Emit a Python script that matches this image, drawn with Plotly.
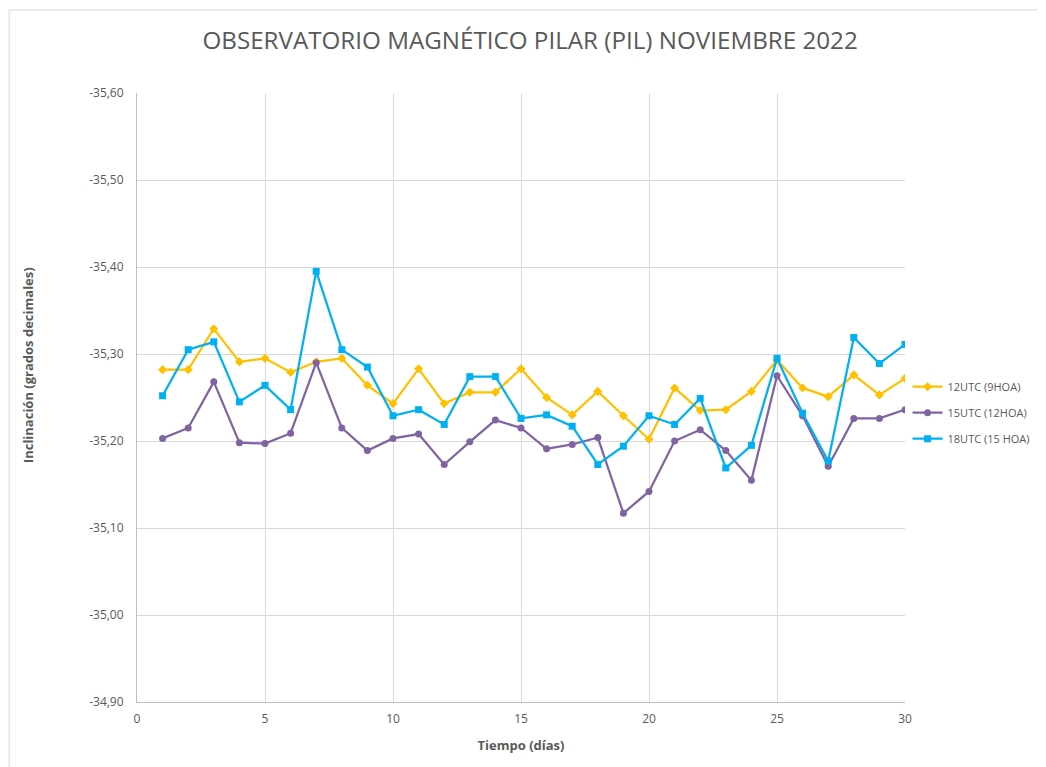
import plotly.graph_objects as go

dias = list(range(1, 31))
utc12 = [-35.282, -35.282, -35.329, -35.291, -35.295, -35.279, -35.291, -35.295, -35.264, -35.243,
         -35.283, -35.243, -35.256, -35.256, -35.283, -35.250, -35.230, -35.257, -35.229, -35.202,
         -35.261, -35.235, -35.236, -35.257, -35.293, -35.261, -35.251, -35.276, -35.253, -35.272]
utc15 = [-35.203, -35.215, -35.268, -35.198, -35.197, -35.209, -35.290, -35.215, -35.189, -35.203,
         -35.208, -35.173, -35.199, -35.224, -35.215, -35.191, -35.196, -35.204, -35.117, -35.142,
         -35.200, -35.213, -35.189, -35.155, -35.275, -35.229, -35.171, -35.226, -35.226, -35.236]
utc18 = [-35.252, -35.305, -35.314, -35.245, -35.264, -35.236, -35.395, -35.305, -35.285, -35.229,
         -35.236, -35.219, -35.274, -35.274, -35.226, -35.230, -35.217, -35.173, -35.194, -35.229,
         -35.219, -35.249, -35.169, -35.195, -35.295, -35.232, -35.177, -35.319, -35.289, -35.311]
nombres = ["12UTC (9HOA)", "15UTC (12HOA)", "18UTC (15 HOA)"]
yticks = [-35.60, -35.50, -35.40, -35.30, -35.20, -35.10, -35.00, -34.90]
yticklabels = ["-35,60", "-35,50", "-35,40", "-35,30", "-35,20", "-35,10", "-35,00", "-34,90"]

FONT = "Open Sans, sans-serif"
GREY = "#595959"

fig = go.Figure()
specs = [(utc12, "#FFC000", "diamond", 7), (utc15, "#8064A2", "circle", 7), (utc18, "#00B0F0", "square", 7)]
for i, ((vals, col, sym, sz), name) in enumerate(zip(specs, nombres)):
    fig.add_trace(go.Scatter(x=dias, y=vals, mode="lines+markers", name=name,
                             legendgroup=f"g{i}",
                             line=dict(color=col, width=2.25),
                             marker=dict(color=col, symbol=sym, size=sz)))

fig.update_layout(
    width=1038, height=759,
    paper_bgcolor="white", plot_bgcolor="white",
    separators=",.",
    margin=dict(l=129, r=140, t=85, b=65),
    title=dict(text="OBSERVATORIO MAGNÉTICO PILAR (PIL) NOVIEMBRE 2022",
               xref="container", x=0.503, xanchor="center", y=0.957, yanchor="middle",
               font=dict(family=FONT, size=24.2, color=GREY)),
    font=dict(family=FONT, color=GREY, size=12),
    showlegend=True,
    legend=dict(x=1.002, xanchor="left", y=0.475, yanchor="middle",
                font=dict(family=FONT, size=11, color=GREY),
                bgcolor="rgba(0,0,0,0)", tracegroupgap=7, itemwidth=30),
    xaxis=dict(range=[0, 30], dtick=5, tick0=0, showgrid=True, gridcolor="#d9d9d9",
               zeroline=False, showline=True, linecolor="#bfbfbf", ticks="",
               ticklabelstandoff=6,
               tickfont=dict(family=FONT, size=12, color=GREY),
               title=dict(text="<b>Tiempo (días)</b>", standoff=14,
                          font=dict(family=FONT, size=13, color=GREY))),
    yaxis=dict(range=[-34.90, -35.60], tickvals=yticks, ticktext=yticklabels,
               showgrid=True, gridcolor="#d9d9d9", zeroline=False,
               showline=True, linecolor="#bfbfbf", ticks="",
               ticklabelstandoff=10,
               tickfont=dict(family=FONT, size=12, color=GREY)),
)
fig.add_annotation(text="<b>Inclinación (grados decimales)</b>", textangle=-90,
                   xref="paper", yref="paper", x=(28 - 137) / 769, y=(702 - 365) / 609,
                   xanchor="center", yanchor="middle", showarrow=False,
                   font=dict(family=FONT, size=13, color=GREY))
fig.add_shape(type="rect", xref="paper", yref="paper",
              x0=(9 - 137) / 769, x1=1.4, y0=-0.4, y1=(702 - 10) / 609,
              line=dict(color="#d9d9d9", width=1), layer="below")

fig.write_html("out.html")
